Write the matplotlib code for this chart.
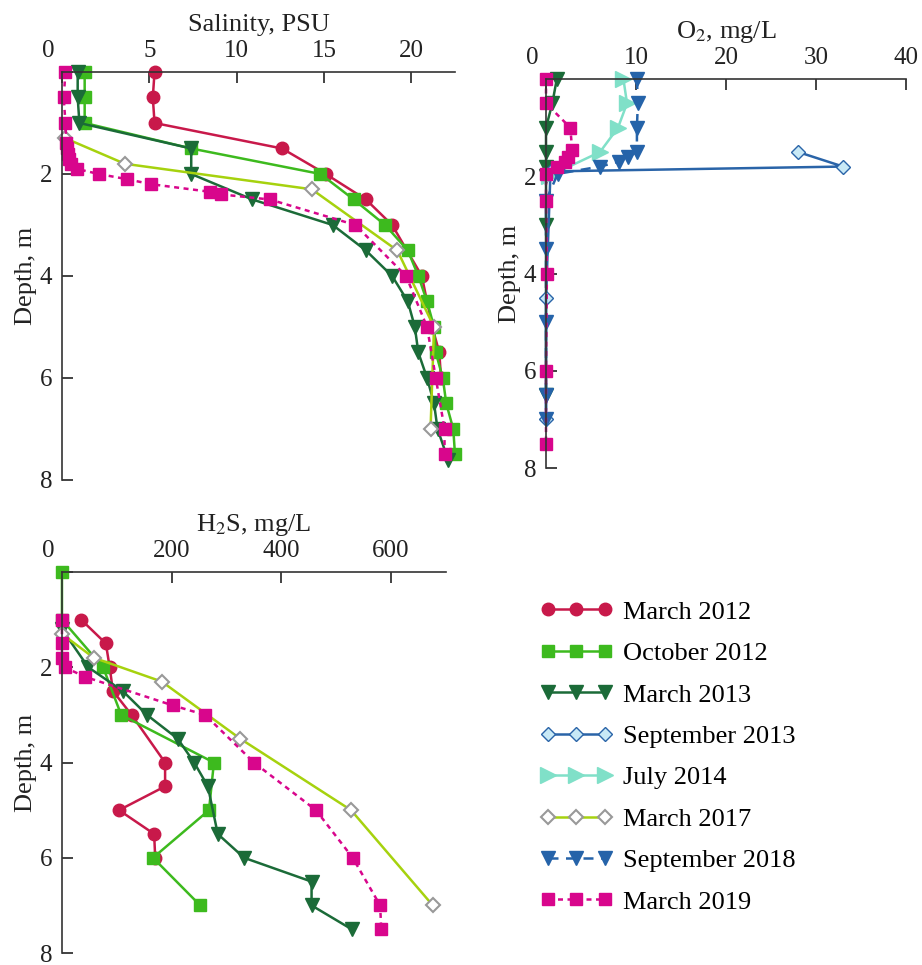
import matplotlib
matplotlib.use("Agg")
import matplotlib.pyplot as plt
from matplotlib.lines import Line2D

plt.rcParams['font.family'] = ['Liberation Serif', 'DejaVu Serif']
plt.rcParams['mathtext.fontset'] = 'stix'

# ---- data: salinity, PSU ----
sal_d_m12 = [0, 0.5, 1.0, 1.5, 2.0, 2.5, 3.0, 4.0, 5.0, 5.5, 6.0]
sal_m12 = [5.3, 5.2, 5.3, 12.6, 15.1, 17.4, 18.9, 20.6, 21.2, 21.6, 21.7]
sal_d_o12 = [0, 0.5, 1.0, 1.5, 2.0, 2.5, 3.0, 3.5, 4.0, 4.5, 5.0, 5.5, 6.0, 6.5, 7.0, 7.5]
sal_o12 = [1.3, 1.3, 1.3, 7.4, 14.8, 16.7, 18.5, 19.8, 20.4, 20.9, 21.3, 21.4, 21.8, 22.0, 22.4, 22.5]
sal_d_m13 = [0, 0.5, 1.0, 1.5, 2.0, 2.5, 3.0, 3.5, 4.0, 4.5, 5.0, 5.5, 6.0, 6.5, 7.0, 7.6]
sal_m13 = [0.9, 0.9, 1.0, 7.4, 7.4, 10.9, 15.5, 17.4, 18.9, 19.8, 20.2, 20.4, 20.9, 21.3, 21.5, 22.1]
sal_d_m17 = [1.3, 1.8, 2.3, 3.5, 5.0, 7.0]
sal_m17 = [0.2, 3.6, 14.3, 19.2, 21.3, 21.1]
sal_d_m19 = [0, 0.5, 1.0, 1.4, 1.5, 1.6, 1.7, 1.8, 1.9, 2.0, 2.1, 2.2, 2.35, 2.4, 2.5,
             3.0, 4.0, 5.0, 6.0, 7.0, 7.5]
sal_m19 = [0.2, 0.1, 0.2, 0.25, 0.3, 0.35, 0.4, 0.5, 0.85, 2.1, 3.7, 5.1, 8.5, 9.1, 11.9,
           16.8, 19.7, 20.9, 21.4, 21.9, 21.9]

# ---- data: O2, mg/L ----
o2_d_m13 = [0, 0.5, 1.0, 1.5, 1.8, 2.0, 3.0, 6.5]
o2_m13 = [1.2, 0.7, 0, 0, 0, 0, 0, 0]
o2_d_s13 = [1.5, 1.8, 1.9, 4.5, 7.0]
o2_s13 = [28, 33, 0.5, 0, 0]
o2_d_j14 = [0, 0.5, 1.0, 1.5, 2.0]
o2_j14 = [8.6, 9.0, 8.0, 6.0, 0.3]
o2_d_s18 = [0, 0.5, 1.0, 1.5, 1.6, 1.7, 1.8, 1.95, 2.5, 3.5, 5.0, 6.5, 7.0]
o2_s18 = [10.1, 10.2, 10.1, 10.1, 9.1, 8.1, 6.0, 1.3, 0, 0, 0, 0, 0]
o2_d_m19 = [0, 0.5, 1.0, 1.45, 1.6, 1.7, 1.8, 1.95, 2.5, 4.0, 6.0, 7.5]
o2_m19 = [0, 0, 2.7, 2.9, 2.4, 2.1, 1.2, 0, 0, 0.1, 0, 0]

# ---- data: H2S, mg/L ----
h2s_d_m12 = [1.0, 1.5, 2.0, 2.5, 3.0, 4.0, 4.5, 5.0, 5.5, 6.0]
h2s_m12 = [35, 80, 87, 93, 127, 188, 188, 104, 168, 170]
h2s_d_o12 = [0, 1.0, 2.0, 3.0, 4.0, 5.0, 6.0, 7.0]
h2s_o12 = [0, 0, 75, 108, 277, 268, 166, 252]
h2s_d_m13 = [1.2, 2.0, 2.5, 3.0, 3.5, 4.0, 4.5, 5.5, 6.0, 6.5, 7.0, 7.5]
h2s_m13 = [0, 48, 111, 155, 211, 241, 266, 284, 332, 455, 455, 528]
h2s_d_m17 = [1.3, 1.8, 2.3, 3.5, 5.0, 7.0]
h2s_m17 = [0, 58, 182, 325, 527, 676]
h2s_d_m19 = [1.0, 1.5, 1.8, 2.0, 2.2, 2.8, 3.0, 4.0, 5.0, 6.0, 7.0, 7.5]
h2s_m19 = [0, 0, 0, 5, 42, 202, 261, 350, 463, 530, 580, 582]

labels = ['March 2012', 'October 2012', 'March 2013', 'September 2013',
          'July 2014', 'March 2017', 'September 2018', 'March 2019']

# styles per series
sty = {
    'March 2012': dict(color='#c8194a', marker='o', ms=9, mfc='#c8194a', mec='#c8194a', ls='-'),
    'October 2012': dict(color='#3dba1e', marker='s', ms=9, mfc='#3dba1e', mec='#3dba1e', ls='-'),
    'March 2013': dict(color='#1b6b38', marker='v', ms=10, mfc='#1b6b38', mec='#1b6b38', ls='-'),
    'September 2013': dict(color='#2a64a8', marker='D', ms=7, mfc='#c8e9f6', mec='#2a64a8',
                           mew=1.0, ls='-'),
    'July 2014': dict(color='#80e0c8', marker='>', ms=11, mfc='#80e0c8', mec='#80e0c8', ls='-'),
    'March 2017': dict(color='#a6d20e', marker='D', ms=7, mfc='white', mec='#999999',
                       mew=1.5, ls='-'),
    'September 2018': dict(color='#2563a9', marker='v', ms=10, mfc='#2563a9', mec='#2563a9',
                           ls=(0, (4, 3))),
    'March 2019': dict(color='#d8068c', marker='s', ms=9, mfc='#d8068c', mec='#d8068c',
                       ls=(0, (2, 1.8))),
}

fig = plt.figure(figsize=(9.22, 9.65), dpi=100)
ax_s = fig.add_axes([0.0672, 0.5026, 0.4263, 0.4228])
ax_o = fig.add_axes([0.5922, 0.5150, 0.3905, 0.4031])
ax_h = fig.add_axes([0.0672, 0.0124, 0.4165, 0.3948])


def draw(ax, x, d, name):
    ax.plot(x, d, lw=1.8, clip_on=False, **sty[name])


draw(ax_s, sal_m12, sal_d_m12, 'March 2012')
draw(ax_s, sal_o12, sal_d_o12, 'October 2012')
draw(ax_s, sal_m13, sal_d_m13, 'March 2013')
draw(ax_s, sal_m17, sal_d_m17, 'March 2017')
draw(ax_s, sal_m19, sal_d_m19, 'March 2019')

draw(ax_o, o2_m13, o2_d_m13, 'March 2013')
draw(ax_o, o2_s13, o2_d_s13, 'September 2013')
draw(ax_o, o2_j14, o2_d_j14, 'July 2014')
draw(ax_o, o2_s18, o2_d_s18, 'September 2018')
draw(ax_o, o2_m19, o2_d_m19, 'March 2019')

draw(ax_h, h2s_m12, h2s_d_m12, 'March 2012')
draw(ax_h, h2s_o12, h2s_d_o12, 'October 2012')
draw(ax_h, h2s_m13, h2s_d_m13, 'March 2013')
draw(ax_h, h2s_m17, h2s_d_m17, 'March 2017')
draw(ax_h, h2s_m19, h2s_d_m19, 'March 2019')

setup = [
    (ax_s, 22.5, [0, 5, 10, 15, 20], 'Salinity, PSU'),
    (ax_o, 40, [0, 10, 20, 30, 40], r'O$_2$, mg/L'),
    (ax_h, 700, [0, 200, 400, 600], r'H$_2$S, mg/L'),
]
for ax, xmax, xt, xl in setup:
    ax.set_xlim(0, xmax)
    ax.set_ylim(8, 0)
    ax.xaxis.tick_top()
    ax.xaxis.set_label_position('top')
    ax.set_xticks(xt)
    ax.set_xticklabels([''] + [str(v) for v in xt[1:]])
    ax.set_yticks([0, 2, 4, 6, 8])
    ax.set_yticklabels(['', '2', '4', '6', '8'])
    ax.tick_params(direction='in', length=8, width=1.2, labelsize=18, pad=7,
                   colors='#222222')
    ax.set_xlabel(xl, fontsize=19, labelpad=7, color='#222222')
    ax.set_ylabel('Depth, m', fontsize=19, labelpad=2, color='#222222')
    for s in ('right', 'bottom'):
        ax.spines[s].set_visible(False)
    for s in ('top', 'left'):
        ax.spines[s].set_linewidth(1.2)
        ax.spines[s].set_color('#333333')
    ax.annotate('0', xy=(0, 1), xycoords='axes fraction', xytext=(-10, 7),
                textcoords='offset points', ha='center', va='bottom',
                fontsize=18, color='#222222')

handles = [Line2D([], [], lw=1.8, **sty[n]) for n in labels]
fig.legend(handles, labels, loc='upper left', bbox_to_anchor=(0.5857, 0.378),
           frameon=False, fontsize=19, numpoints=3, handlelength=2.76,
           handletextpad=0.38, labelspacing=0.68, borderpad=0, borderaxespad=0)

fig.savefig('out.png', dpi=100)
